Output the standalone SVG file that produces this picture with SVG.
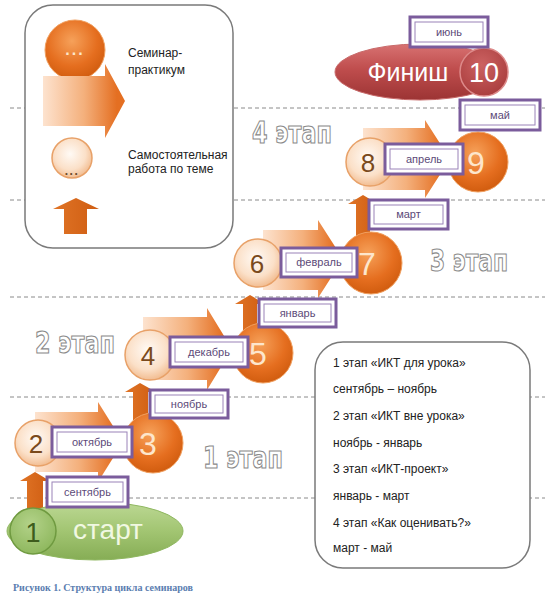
<svg xmlns="http://www.w3.org/2000/svg" width="553" height="600" viewBox="0 0 553 600">
<defs>
  <linearGradient id="gArrow" x1="0" y1="0" x2="1" y2="0">
    <stop offset="0" stop-color="#fde3cf"/>
    <stop offset="0.5" stop-color="#f4b07c"/>
    <stop offset="0.9" stop-color="#e46f22"/>
  </linearGradient>
  <linearGradient id="gUp" x1="0" y1="0" x2="1" y2="0">
    <stop offset="0" stop-color="#e07426"/>
    <stop offset="1" stop-color="#cf5d12"/>
  </linearGradient>
  <radialGradient id="gDark" cx="0.45" cy="0.35" r="0.7">
    <stop offset="0" stop-color="#f6a15a"/>
    <stop offset="0.6" stop-color="#e56e1f"/>
    <stop offset="1" stop-color="#cd590c"/>
  </radialGradient>
  <radialGradient id="gLight" cx="0.45" cy="0.4" r="0.65">
    <stop offset="0" stop-color="#fffaf5"/>
    <stop offset="0.6" stop-color="#fbe0c8"/>
    <stop offset="1" stop-color="#f0b585"/>
  </radialGradient>
  <linearGradient id="gRed" x1="0" y1="0" x2="0" y2="1">
    <stop offset="0" stop-color="#d87272"/>
    <stop offset="0.45" stop-color="#bf4d4d"/>
    <stop offset="1" stop-color="#9c3434"/>
  </linearGradient>
  <radialGradient id="gRedC" cx="0.45" cy="0.35" r="0.7">
    <stop offset="0" stop-color="#cc6262"/>
    <stop offset="1" stop-color="#a83c3c"/>
  </radialGradient>
  <linearGradient id="gGreen" x1="0" y1="0" x2="0" y2="1">
    <stop offset="0" stop-color="#bcd894"/>
    <stop offset="0.5" stop-color="#a2c572"/>
    <stop offset="1" stop-color="#86ad55"/>
  </linearGradient>
  <radialGradient id="gGreenC" cx="0.45" cy="0.35" r="0.7">
    <stop offset="0" stop-color="#b3d289"/>
    <stop offset="1" stop-color="#8cb65b"/>
  </radialGradient>
  <clipPath id="legClip"><rect x="25" y="5" width="208" height="243" rx="28"/></clipPath>
  <style>
    .dash{stroke:#8a8a8a;stroke-width:1;stroke-dasharray:4 3;fill:none}
    .box{fill:#fff;stroke:#7a7a7a;stroke-width:1.5}
    .blk{fill:url(#gArrow)}
    .up{fill:url(#gUp)}
    .dark{fill:url(#gDark);stroke:#f0a060;stroke-width:1}
    .light{fill:url(#gLight);stroke:#e8a168;stroke-width:1.5}
    .mo{fill:#fff;stroke:#7b5c9c;stroke-width:3}
    .mi{fill:none;stroke:#9a82b8;stroke-width:1}
    .mt{font-family:"Liberation Sans",Arial,sans-serif;font-size:11px;fill:#5c4a78;text-anchor:middle}
    .t{font-family:"Liberation Sans",Arial,sans-serif;font-size:12px;fill:#222}
    .nb{font-family:"Liberation Sans",Arial,sans-serif;font-size:26px;fill:#7a4a1c;text-anchor:middle}
    .nw{font-family:"Liberation Sans",Arial,sans-serif;font-size:32px;fill:#fde6cc;text-anchor:middle}
    .stg{font-family:"DejaVu Sans Condensed","Liberation Sans",sans-serif;font-weight:bold;font-size:24px;fill:#fff;stroke:#8a8a8a;stroke-width:0.9}
  </style>
</defs>
<rect width="553" height="600" fill="#fff"/>

<g id="dashes">
  <line class="dash" x1="10" y1="108" x2="545" y2="108"/>
  <line class="dash" x1="10" y1="200" x2="545" y2="200"/>
  <line class="dash" x1="10" y1="297" x2="545" y2="297"/>
  <line class="dash" x1="10" y1="397" x2="545" y2="397"/>
  <line class="dash" x1="10" y1="498" x2="545" y2="498"/>
</g>

<g id="legend">
  <rect class="box" x="25" y="5" width="208" height="243" rx="28"/>
  <circle class="dark" cx="75" cy="50" r="30"/>
  <text x="75" y="55" font-family="Liberation Sans,sans-serif" font-size="16" font-weight="bold" fill="#fde6cc" text-anchor="middle" letter-spacing="2">...</text>
  <path class="blk" d="M43,76 H105 V64 L125,101 L105,138 V126 H43 Z"/>
  <circle class="light" cx="72" cy="158" r="20"/>
  <text x="72" y="175" font-family="Liberation Sans,sans-serif" font-size="12" font-weight="bold" fill="#6a4a2a" text-anchor="middle" letter-spacing="1.5">...</text>
  <path class="up" d="M76,198 L99,209 H87 V234 H64 V209 H53 Z"/>
  <g clip-path="url(#legClip)">
    <text class="t" x="128" y="57">Семинар-</text>
    <text class="t" x="128" y="74">практикум</text>
    <text class="t" x="128" y="159">Самостоятельная</text>
    <text class="t" x="128" y="173">работа по теме</text>
  </g>
</g>

<g id="stage-labels">
  <text class="stg" transform="translate(252,143) scale(1,1.25)" textLength="80" lengthAdjust="spacingAndGlyphs">4 этап</text>
  <text class="stg" transform="translate(430,271) scale(1,1.25)" textLength="78" lengthAdjust="spacingAndGlyphs">3 этап</text>
  <text class="stg" transform="translate(35,353) scale(1,1.25)" textLength="80" lengthAdjust="spacingAndGlyphs">2 этап</text>
  <text class="stg" transform="translate(203,468) scale(1,1.25)" textLength="80" lengthAdjust="spacingAndGlyphs">1 этап</text>
</g>

<g id="connectors">
  <path class="blk" d="M35,412 H98 V402 L123,442 L98,482 V472 H35 Z"/>
  <path class="blk" d="M143,317 H207 V308 L232,349 L207,390 V380 H143 Z"/>
  <path class="blk" d="M263,230 H318 V220 L343,259 L318,298 V290 H263 Z"/>
  <path class="blk" d="M363,128 H425 V120 L450,159 L425,198 V190 H363 Z"/>
  <path class="up" d="M35,472 L50,481 H43 V512 H27 V481 H20 Z"/>
  <path class="up" d="M140,383 L156,392 H148 V420 H133 V392 H125 Z"/>
  <path class="up" d="M250,295 L265,304 H257 V330 H243 V304 H235 Z"/>
  <path class="up" d="M363,195 L378,204 H370 V240 H356 V204 H348 Z"/>
</g>

<g id="finish">
  <ellipse cx="420" cy="72" rx="85" ry="28" fill="url(#gRed)" stroke="#c86a6a" stroke-width="1"/>
  <circle cx="484" cy="72" r="24" fill="url(#gRedC)" stroke="#dd8a8a" stroke-width="1.5"/>
  <text x="408" y="81" font-family="Liberation Sans,sans-serif" font-size="25" fill="#fff" text-anchor="middle">Финиш</text>
  <text x="484" y="82" font-family="Liberation Sans,sans-serif" font-size="27" fill="#fff" text-anchor="middle">10</text>
</g>

<g id="start">
  <ellipse cx="95" cy="531" rx="88" ry="29" fill="url(#gGreen)" stroke="#8fb760" stroke-width="1"/>
  <circle cx="33" cy="531" r="23" fill="url(#gGreenC)" stroke="#6f9a40" stroke-width="1.5"/>
  <text x="33" y="542" font-family="Liberation Sans,sans-serif" font-size="27" fill="#3d5c1c" text-anchor="middle">1</text>
  <text x="108" y="539" font-family="Liberation Sans,sans-serif" font-size="28" fill="#f1f8e2" text-anchor="middle">старт</text>
</g>

<g id="n2"><circle class="light" cx="38" cy="443" r="23"/><text class="nb" x="36" y="453">2</text></g>
<g id="n3"><circle class="dark" cx="153" cy="443" r="30"/><text class="nw" x="148" y="455">3</text></g>
<g id="n4"><circle class="light" cx="150" cy="355" r="25"/><text class="nb" x="148" y="365">4</text></g>
<g id="n5"><circle class="dark" cx="263" cy="353" r="30"/><text class="nw" x="258" y="365">5</text></g>
<g id="n6"><circle class="light" cx="258" cy="263" r="24"/><text class="nb" x="257" y="273">6</text></g>
<g id="n7"><circle class="dark" cx="371" cy="263" r="31"/><text class="nw" x="367" y="275">7</text></g>
<g id="n8"><circle class="light" cx="370" cy="162" r="24"/><text class="nb" x="368" y="172">8</text></g>
<g id="n9"><circle class="dark" cx="478" cy="162" r="30"/><text class="nw" x="476" y="174">9</text></g>

<g id="m-sep"><rect class="mo" x="47" y="477" width="81" height="30"/><rect class="mi" x="52" y="482" width="71" height="20"/><text class="mt" x="87.5" y="496">сентябрь</text></g>
<g id="m-oct"><rect class="mo" x="52" y="427" width="80" height="30"/><rect class="mi" x="57" y="432" width="70" height="20"/><text class="mt" x="92" y="446">октябрь</text></g>
<g id="m-nov"><rect class="mo" x="150" y="390" width="78" height="28"/><rect class="mi" x="155" y="395" width="68" height="18"/><text class="mt" x="189" y="408">ноябрь</text></g>
<g id="m-dec"><rect class="mo" x="170" y="337" width="78" height="30"/><rect class="mi" x="175" y="342" width="68" height="20"/><text class="mt" x="209" y="356">декабрь</text></g>
<g id="m-jan"><rect class="mo" x="259" y="299" width="77" height="28"/><rect class="mi" x="264" y="304" width="67" height="18"/><text class="mt" x="297.5" y="317">январь</text></g>
<g id="m-feb"><rect class="mo" x="281" y="248" width="76" height="29"/><rect class="mi" x="286" y="253" width="66" height="19"/><text class="mt" x="319" y="266">февраль</text></g>
<g id="m-mar"><rect class="mo" x="369" y="200" width="79" height="29"/><rect class="mi" x="374" y="205" width="69" height="19"/><text class="mt" x="408.5" y="218">март</text></g>
<g id="m-apr"><rect class="mo" x="385" y="144" width="78" height="30"/><rect class="mi" x="390" y="149" width="68" height="20"/><text class="mt" x="424" y="163">апрель</text></g>
<g id="m-may"><rect class="mo" x="460" y="100" width="80" height="30"/><rect class="mi" x="465" y="105" width="70" height="20"/><text class="mt" x="500" y="119">май</text></g>
<g id="m-jun"><rect class="mo" x="410" y="17" width="78" height="30"/><rect class="mi" x="415" y="22" width="68" height="20"/><text class="mt" x="449" y="36">июнь</text></g>

<g id="textbox">
  <rect class="box" x="315" y="342" width="215" height="226" rx="28"/>
  <text class="t" x="333" y="367">1 этап «ИКТ для урока»</text>
  <text class="t" x="333" y="393">сентябрь – ноябрь</text>
  <text class="t" x="333" y="420">2 этап «ИКТ вне урока»</text>
  <text class="t" x="333" y="447">ноябрь - январь</text>
  <text class="t" x="333" y="473">3 этап «ИКТ-проект»</text>
  <text class="t" x="333" y="500">январь - март</text>
  <text class="t" x="333" y="527">4 этап «Как оценивать?»</text>
  <text class="t" x="333" y="552">март - май</text>
</g>

<text id="caption" x="13" y="591" font-family="Liberation Serif,serif" font-size="9.5" font-weight="bold" fill="#5a7db0" textLength="180" lengthAdjust="spacingAndGlyphs">Рисунок 1. Структура цикла семинаров</text>
</svg>
